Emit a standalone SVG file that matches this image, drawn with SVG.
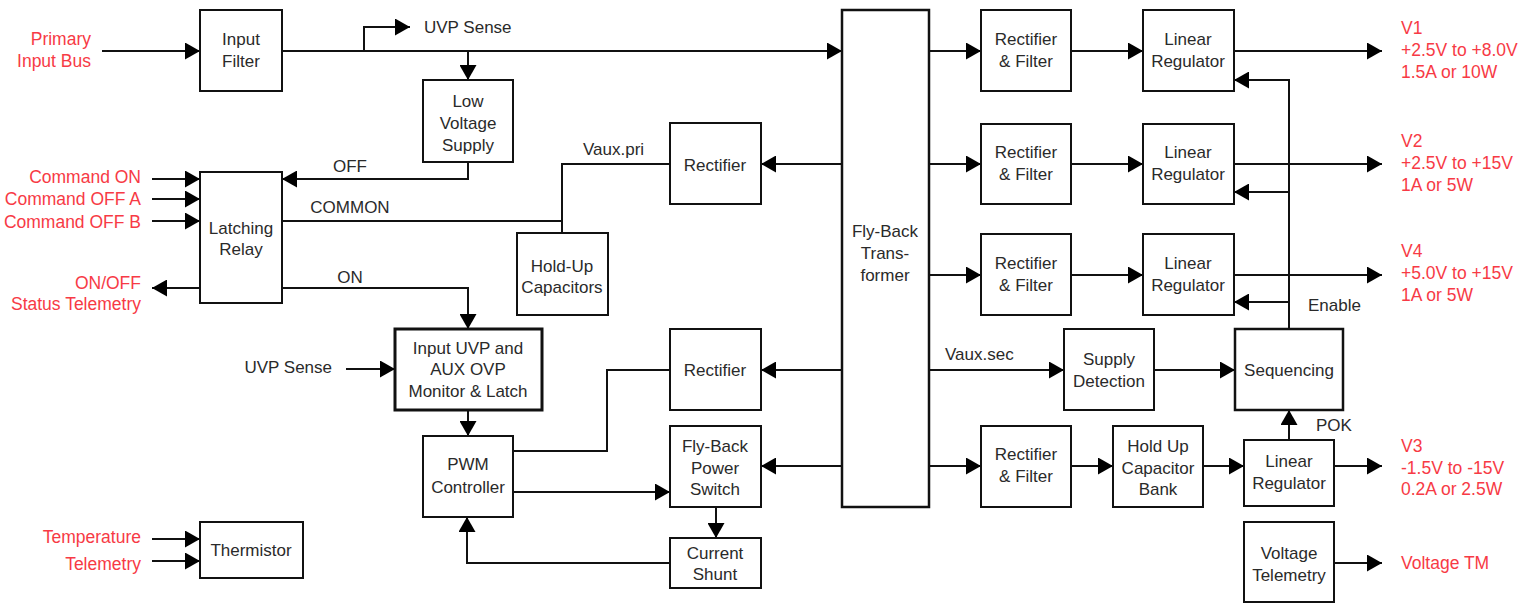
<svg xmlns="http://www.w3.org/2000/svg" width="1537" height="603" viewBox="0 0 1537 603">
<style>
.box{fill:#fff;stroke:#111;stroke-width:2}
.thick{fill:#fff;stroke:#111;stroke-width:3}
.mid{fill:#fff;stroke:#111;stroke-width:2.5}
.t{font-family:"Liberation Sans",Arial,sans-serif;font-size:17px;fill:#2a2a2a;text-anchor:middle}
.l{font-family:"Liberation Sans",Arial,sans-serif;font-size:17px;fill:#2a2a2a}
.r{font-family:"Liberation Sans",Arial,sans-serif;font-size:17.5px;fill:#F73A45}
.re{text-anchor:end}
.c{fill:none;stroke:#111;stroke-width:2}
.a{marker-end:url(#ah)}
</style>
<defs>
<marker id="ah" markerUnits="userSpaceOnUse" markerWidth="16" markerHeight="17" refX="15" refY="8.5" orient="auto">
<path d="M0,0 L15,8.5 L0,17 z" fill="#000"/>
</marker>
</defs>
<g id="connectors">
<path class="c a" d="M102,51 H200"/>
<path class="c a" d="M282,51 H842"/>
<path class="c a" d="M364,51 V27 H410"/>
<path class="c a" d="M468,51 V80"/>
<path class="c a" d="M468,162 V179 H282"/>
<path class="c a" d="M152,179 H200"/>
<path class="c a" d="M152,199 H200"/>
<path class="c a" d="M152,221 H200"/>
<path class="c" d="M282,221 H562"/>
<path class="c" d="M670,164 H562 V233"/>
<path class="c a" d="M842,164 H761"/>
<path class="c a" d="M282,288 H468 V329"/>
<path class="c a" d="M200,288 H152"/>
<path class="c a" d="M346,369 H395"/>
<path class="c a" d="M468,410 V436"/>
<path class="c" d="M513,451 H607 V370 H670"/>
<path class="c a" d="M842,370 H761"/>
<path class="c a" d="M842,466 H761"/>
<path class="c a" d="M513,492 H670"/>
<path class="c a" d="M716,507 V538"/>
<path class="c a" d="M670,563 H467 V517"/>
<path class="c a" d="M152,539 H200"/>
<path class="c a" d="M152,561 H200"/>
<path class="c a" d="M929,51 H981"/>
<path class="c a" d="M929,164 H981"/>
<path class="c a" d="M929,275 H981"/>
<path class="c a" d="M929,466 H981"/>
<path class="c a" d="M1071,51 H1143"/>
<path class="c a" d="M1071,164 H1143"/>
<path class="c a" d="M1071,275 H1143"/>
<path class="c a" d="M1234,51 H1382"/>
<path class="c a" d="M1234,164 H1382"/>
<path class="c a" d="M1234,275 H1382"/>
<path class="c a" d="M929,370 H1064"/>
<path class="c a" d="M1154,370 H1235"/>
<path class="c a" d="M1289,329 V80 H1234"/>
<path class="c a" d="M1289,192 H1234"/>
<path class="c a" d="M1289,302 H1234"/>
<path class="c a" d="M1071,466 H1113"/>
<path class="c a" d="M1203,466 H1244"/>
<path class="c a" d="M1334,466 H1382"/>
<path class="c a" d="M1289,440 V410"/>
<path class="c a" d="M1334,563 H1382"/>
</g>
<g id="labels">
<text class="r re" x="91" y="45">Primary</text>
<text class="r re" x="91" y="67">Input Bus</text>
<text class="l" x="424" y="33">UVP Sense</text>
<text class="t" x="350" y="172">OFF</text>
<text class="r re" x="141" y="183">Command ON</text>
<text class="r re" x="141" y="205">Command OFF A</text>
<text class="r re" x="141" y="228">Command OFF B</text>
<text class="t" x="350" y="213">COMMON</text>
<text class="t" x="350" y="283">ON</text>
<text class="r re" x="141" y="289">ON/OFF </text>
<text class="r re" x="141" y="310">Status Telemetry</text>
<text class="l re" x="332" y="373">UVP Sense</text>
<text class="r re" x="141" y="543">Temperature</text>
<text class="r re" x="141" y="570">Telemetry</text>
<text class="l" x="583" y="155">Vaux.pri</text>
<text class="l" x="945" y="360">Vaux.sec</text>
<text class="l" x="1308" y="311">Enable</text>
<text class="l" x="1316" y="431">POK</text>
<text class="r" x="1401" y="34">V1</text>
<text class="r" x="1401" y="56">+2.5V to +8.0V</text>
<text class="r" x="1401" y="78">1.5A or 10W</text>
<text class="r" x="1401" y="147">V2</text>
<text class="r" x="1401" y="169">+2.5V to +15V</text>
<text class="r" x="1401" y="191">1A or 5W</text>
<text class="r" x="1401" y="257">V4</text>
<text class="r" x="1401" y="279">+5.0V to +15V</text>
<text class="r" x="1401" y="301">1A or 5W</text>
<text class="r" x="1401" y="452">V3</text>
<text class="r" x="1401" y="474">-1.5V to -15V</text>
<text class="r" x="1401" y="495">0.2A or 2.5W</text>
<text class="r" x="1401" y="569">Voltage TM</text>
</g>
<g id="input-filter"><rect class="box" x="200" y="10" width="82" height="81"/><text class="t" x="241" y="45">Input</text><text class="t" x="241" y="67">Filter</text></g>
<g id="low-voltage-supply"><rect class="box" x="423" y="80" width="90" height="82"/><text class="t" x="468" y="107">Low</text><text class="t" x="468" y="129">Voltage</text><text class="t" x="468" y="151">Supply</text></g>
<g id="latching-relay"><rect class="box" x="200" y="172" width="82" height="131"/><text class="t" x="241" y="234">Latching</text><text class="t" x="241" y="255">Relay</text></g>
<g id="hold-up-capacitors"><rect class="box" x="517" y="233" width="91" height="82"/><text class="t" x="562" y="272">Hold-Up</text><text class="t" x="562" y="293">Capacitors</text></g>
<g id="rectifier-pri"><rect class="box" x="670" y="123" width="91" height="81"/><text class="t" x="715" y="171">Rectifier</text></g>
<g id="input-uvp"><rect class="thick" x="395" y="329" width="147" height="81"/><text class="t" x="468" y="354">Input UVP and</text><text class="t" x="468" y="375">AUX OVP</text><text class="t" x="468" y="397">Monitor &amp; Latch</text></g>
<g id="pwm-controller"><rect class="box" x="423" y="436" width="90" height="81"/><text class="t" x="468" y="470">PWM</text><text class="t" x="468" y="493">Controller</text></g>
<g id="thermistor"><rect class="box" x="200" y="522" width="103" height="56"/><text class="t" x="251" y="556">Thermistor</text></g>
<g id="rectifier-aux"><rect class="box" x="670" y="329" width="91" height="81"/><text class="t" x="715" y="376">Rectifier</text></g>
<g id="flyback-switch"><rect class="box" x="670" y="426" width="91" height="81"/><text class="t" x="715" y="452">Fly-Back</text><text class="t" x="715" y="474">Power</text><text class="t" x="715" y="495">Switch</text></g>
<g id="current-shunt"><rect class="box" x="670" y="538" width="91" height="50"/><text class="t" x="715" y="559">Current</text><text class="t" x="715" y="580">Shunt</text></g>
<g id="transformer"><rect class="mid" x="842" y="10" width="87" height="497"/><text class="t" x="885" y="237">Fly-Back</text><text class="t" x="885" y="259">Trans-</text><text class="t" x="885" y="281">former</text></g>
<g id="rf1"><rect class="box" x="981" y="10" width="90" height="81"/><text class="t" x="1026" y="45">Rectifier</text><text class="t" x="1026" y="67">&amp; Filter</text></g>
<g id="rf2"><rect class="box" x="981" y="124" width="90" height="80"/><text class="t" x="1026" y="158">Rectifier</text><text class="t" x="1026" y="180">&amp; Filter</text></g>
<g id="rf3"><rect class="box" x="981" y="234" width="90" height="81"/><text class="t" x="1026" y="269">Rectifier</text><text class="t" x="1026" y="291">&amp; Filter</text></g>
<g id="rf4"><rect class="box" x="981" y="426" width="90" height="81"/><text class="t" x="1026" y="460">Rectifier</text><text class="t" x="1026" y="482">&amp; Filter</text></g>
<g id="lr1"><rect class="box" x="1143" y="10" width="91" height="81"/><text class="t" x="1188" y="45">Linear</text><text class="t" x="1188" y="67">Regulator</text></g>
<g id="lr2"><rect class="box" x="1143" y="124" width="91" height="80"/><text class="t" x="1188" y="158">Linear</text><text class="t" x="1188" y="180">Regulator</text></g>
<g id="lr4"><rect class="box" x="1143" y="234" width="91" height="81"/><text class="t" x="1188" y="269">Linear</text><text class="t" x="1188" y="291">Regulator</text></g>
<g id="supply-detection"><rect class="box" x="1064" y="329" width="90" height="81"/><text class="t" x="1109" y="365">Supply</text><text class="t" x="1109" y="387">Detection</text></g>
<g id="sequencing"><rect class="mid" x="1235" y="329" width="108" height="81"/><text class="t" x="1289" y="376">Sequencing</text></g>
<g id="hold-up-bank"><rect class="box" x="1113" y="426" width="90" height="81"/><text class="t" x="1158" y="452">Hold Up</text><text class="t" x="1158" y="474">Capacitor</text><text class="t" x="1158" y="495">Bank</text></g>
<g id="lr3"><rect class="box" x="1244" y="440" width="90" height="66"/><text class="t" x="1289" y="467">Linear</text><text class="t" x="1289" y="489">Regulator</text></g>
<g id="voltage-telemetry"><rect class="box" x="1244" y="522" width="90" height="80"/><text class="t" x="1289" y="559">Voltage</text><text class="t" x="1289" y="581">Telemetry</text></g>
</svg>
